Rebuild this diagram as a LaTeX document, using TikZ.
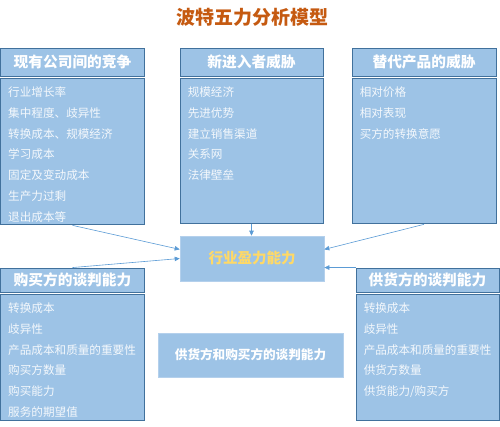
\documentclass[tikz,border=0pt]{standalone}
\usepackage{fontspec}
\setmainfont{Noto Sans CJK SC}
\usetikzlibrary{arrows.meta,calc}
\definecolor{pfblue}{HTML}{9DC3E6}
\definecolor{pfedge}{HTML}{41719C}
\definecolor{pfline}{HTML}{5B9BD5}
\definecolor{pforange}{HTML}{C55A11}
\definecolor{pfgold}{HTML}{FFD966}
\definecolor{pfpale}{HTML}{B4D0EC}
\definecolor{pftext}{HTML}{F4F8FC}

\begin{document}
\begin{tikzpicture}[x=1pt, y=-1pt,
  headbox/.style={draw=pfedge, line width=0.9pt, fill=pfblue, minimum width=144pt,
    minimum height=28pt, inner sep=0pt, text=white,
    font=\fontsize{14.7}{16}\selectfont\bfseries},
  bodybox/.style={draw=pfedge, line width=0.9pt, fill=pfblue, minimum width=144pt,
    inner sep=0pt, anchor=north},
  item/.style={anchor=west, inner sep=0pt, text=pftext,
    font=\fontsize{11.6}{13}\selectfont},
  midbox/.style={draw=pfpale, line width=0.6pt, fill=pfblue, inner sep=0pt},
  link/.style={draw=pfline, line width=0.6pt, -{Triangle[length=5pt,width=4.5pt]}}]

\useasboundingbox (0,0) rectangle (500,426);

\node[text=pforange, font=\fontsize{19}{22}\selectfont\bfseries] (title) at (252,17) {波特五力分析模型};

% Top row
\node[headbox] (h1) at (72.5,62) {现有公司间的竞争};
\node[bodybox, minimum height=146.5pt] (b1) at ($(h1.south)+(0,1.5)$) {};
\foreach \t [count=\i] in {行业增长率,集中程度、歧异性,转换成本、规模经济,学习成本,固定及变动成本,生产力过剩,退出成本等}
  \node[item] (b1i\i) at ($(b1.north west)+(8,{14.5+20.7*(\i-1)})$) {\t};

\node[headbox, minimum width=143pt] (h2) at (251.5,62) {新进入者威胁};
\node[bodybox, minimum width=143pt, minimum height=145.5pt] (b2) at ($(h2.south)+(0,1.5)$) {};
\foreach \t [count=\i] in {规模经济,先进优势,建立销售渠道,关系网,法律壁垒}
  \node[item] (b2i\i) at ($(b2.north west)+(8,{14.5+20.7*(\i-1)})$) {\t};

\node[headbox] (h3) at (424,62) {替代产品的威胁};
\node[bodybox, minimum height=145.5pt] (b3) at ($(h3.south)+(0,1.5)$) {};
\foreach \t [count=\i] in {相对价格,相对表现,买方的转换意愿}
  \node[item] (b3i\i) at ($(b3.north west)+(8,{14.5+20.7*(\i-1)})$) {\t};

% Centre
\node[midbox, minimum width=144pt, minimum height=45pt, text=pfgold,
  font=\fontsize{14.5}{16}\selectfont\bfseries] (ind) at (252,258.5) {行业盈力能力};

% Bottom row
\node[headbox, minimum height=24pt] (h4) at (72.5,280) {购买方的谈判能力};
\node[bodybox, minimum height=126.5pt] (b4) at ($(h4.south)+(0,1.5)$) {};
\foreach \t [count=\i] in {转换成本,歧异性,产品成本和质量的重要性,购买方数量,购买能力,服务的期望值}
  \node[item] (b4i\i) at ($(b4.north west)+(8,{14.5+20.7*(\i-1)})$) {\t};

\node[headbox, minimum width=143pt, minimum height=24pt] (h5) at (427.5,280) {供货方的谈判能力};
\node[bodybox, minimum width=143pt, minimum height=126.5pt] (b5) at ($(h5.south)+(0,1.5)$) {};
\foreach \t [count=\i] in {转换成本,歧异性,产品成本和质量的重要性,供货方数量,供货能力/购买方}
  \node[item] (b5i\i) at ($(b5.north west)+(8,{14.5+20.7*(\i-1)})$) {\t};

\node[midbox, minimum width=185pt, minimum height=44pt, text=white,
  font=\fontsize{12.6}{14}\selectfont\bfseries] (both) at (250.5,355) {供货方和购买方的谈判能力};

% Arrows into the centre
\draw[link] (b1.south) -- ($(ind.north west)!0.3!(ind.south west)$);
\draw[link] (h4.north) -- (ind.west);
\draw[link] (b2.south) -- (b2.south |- ind.north);
\draw[link] (b3.south) -- ($(ind.north east)!0.3!(ind.south east)$);
\draw[link] (h5.north west) -- (h5.north west -| ind.east);

\end{tikzpicture}
\end{document}
